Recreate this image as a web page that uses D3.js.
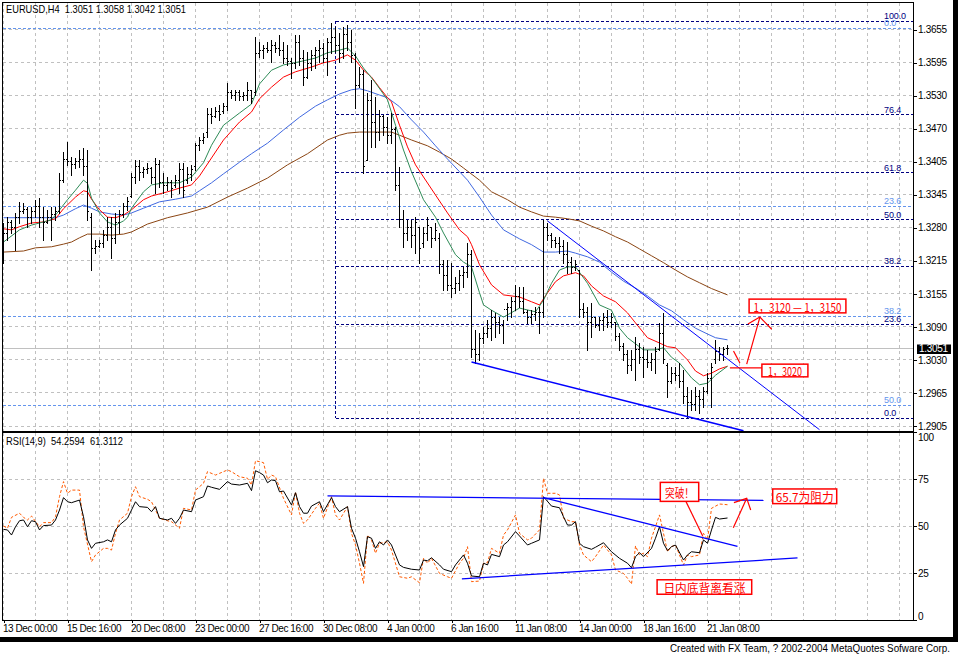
<!DOCTYPE html>
<html><head><meta charset="utf-8">
<script src="https://cdn.jsdelivr.net/npm/d3@7/dist/d3.min.js"></script>
<style>
html,body{margin:0;padding:0;background:#fff;}
svg{display:block;font-family:"Liberation Sans",Arial,sans-serif;}
</style></head><body>
<svg id="c" width="958" height="658"></svg>
<script>
// ---------------- DATA ----------------
const symbolHeader = "EURUSD,H4\u00a0\u00a01.3051 1.3058 1.3042 1.3051";
const rsiHeader = "RSI(14,9)\u00a0\u00a054.2594\u00a0\u00a061.3112";
const timeLabels = ["13 Dec 00:00","15 Dec 16:00","20 Dec 08:00","23 Dec 00:00","27 Dec 16:00","30 Dec 08:00","4 Jan 00:00","6 Jan 16:00","11 Jan 08:00","14 Jan 00:00","18 Jan 16:00","21 Jan 08:00"];
const timeLabelBars = [0,16,32,48,64,80,96,112,128,144,160,176];
const priceTickLabels = ["1.3655","1.3595","1.3530","1.3470","1.3405","1.3345","1.3280","1.3215","1.3155","1.3090","1.3030","1.2965","1.2905"];
const priceTickValues = [1.3655,1.35925,1.3530,1.34675,1.3405,1.33425,1.3280,1.32175,1.3155,1.30925,1.3030,1.29675,1.2905];
const rsiTickValues = [0,25,50,75,100];
const lastPrice = 1.3051;

const highs = [1.3289,1.3300,1.3295,1.3308,1.3329,1.3327,1.3319,1.3319,1.3333,1.3336,
1.3319,1.3314,1.3319,1.3319,1.3384,1.3423,1.3442,1.3414,1.3412,1.3427,
1.3431,1.3427,1.3308,1.3257,1.3257,1.3276,1.3300,1.3300,1.3308,1.3314,
1.3327,1.3338,1.3384,1.3408,1.3408,1.3395,1.3403,1.3395,1.3412,1.3408,
1.3384,1.3376,1.3370,1.3380,1.3403,1.3403,1.3395,1.3399,1.3440,1.3452,
1.3459,1.3506,1.3506,1.3508,1.3512,1.3516,1.3554,1.3541,1.3541,1.3541,
1.3537,1.3556,1.3541,1.3641,1.3631,1.3626,1.3631,1.3635,1.3631,1.3645,
1.3631,1.3626,1.3601,1.3645,1.3645,1.3616,1.3612,1.3616,1.3622,1.3635,
1.3630,1.3639,1.3667,1.3660,1.3649,1.3660,1.3664,1.3654,1.3611,1.3584,
1.3578,1.3535,1.3560,1.3527,1.3503,1.3493,1.3490,1.3497,1.3471,1.3395,
1.3314,1.3295,1.3295,1.3300,1.3282,1.3282,1.3300,1.3282,1.3289,1.3270,
1.3219,1.3219,1.3213,1.3187,1.3200,1.3206,1.3251,1.3238,1.3087,1.3081,
1.3092,1.3106,1.3124,1.3119,1.3111,1.3106,1.3138,1.3149,1.3172,1.3168,
1.3168,1.3124,1.3124,1.3130,1.3130,1.3295,1.3289,1.3270,1.3263,1.3263,
1.3257,1.3253,1.3225,1.3219,1.3200,1.3138,1.3130,1.3138,1.3111,1.3111,
1.3119,1.3124,1.3119,1.3100,1.3081,1.3062,1.3049,1.3049,1.3073,1.3062,
1.3055,1.3049,1.3043,1.3055,1.3100,1.3119,1.3024,1.3017,1.3017,1.3024,
1.3011,1.2979,1.2973,1.2979,1.2973,1.2979,1.3005,1.3024,1.3068,1.3055,
1.3055,1.3058];
const lows = [1.3213,1.3257,1.3270,1.3238,1.3289,1.3308,1.3282,1.3289,1.3300,1.3282,
1.3257,1.3289,1.3257,1.3295,1.3308,1.3367,1.3399,1.3380,1.3393,1.3395,
1.3380,1.3295,1.3200,1.3232,1.3244,1.3244,1.3257,1.3223,1.3251,1.3270,
1.3300,1.3314,1.3338,1.3365,1.3370,1.3376,1.3384,1.3365,1.3346,1.3357,
1.3346,1.3351,1.3338,1.3357,1.3346,1.3338,1.3365,1.3370,1.3389,1.3427,
1.3440,1.3452,1.3478,1.3489,1.3484,1.3497,1.3503,1.3525,1.3522,1.3522,
1.3522,1.3522,1.3516,1.3531,1.3603,1.3601,1.3612,1.3594,1.3612,1.3607,
1.3592,1.3588,1.3563,1.3582,1.3588,1.3550,1.3563,1.3578,1.3582,1.3594,
1.3594,1.3569,1.3611,1.3612,1.3594,1.3601,1.3616,1.3594,1.3507,1.3546,
1.3384,1.3408,1.3433,1.3433,1.3446,1.3455,1.3440,1.3440,1.3351,1.3282,
1.3244,1.3257,1.3244,1.3232,1.3213,1.3244,1.3257,1.3244,1.3257,1.3194,
1.3162,1.3162,1.3149,1.3156,1.3162,1.3168,1.3187,1.3036,1.3024,1.3030,
1.3062,1.3073,1.3068,1.3073,1.3081,1.3062,1.3106,1.3111,1.3124,1.3130,
1.3119,1.3100,1.3100,1.3106,1.3081,1.3111,1.3257,1.3244,1.3244,1.3232,
1.3213,1.3194,1.3194,1.3200,1.3111,1.3111,1.3049,1.3073,1.3092,1.3087,
1.3087,1.3092,1.3092,1.3068,1.3049,1.3030,1.3005,1.3011,1.2992,1.3024,
1.2998,1.3017,1.3011,1.3005,1.3049,1.3024,1.2960,1.2986,1.2992,1.2979,
1.2949,1.2922,1.2935,1.2935,1.2930,1.2941,1.2967,1.2941,1.3024,1.3030,
1.3030,1.3042];
const opens = [1.3250,1.3270,1.3290,1.3280,1.3300,1.3310,1.3315,1.3300,1.3310,1.3320,
1.3300,1.3290,1.3300,1.3305,1.3310,1.3370,1.3410,1.3405,1.3400,1.3405,
1.3410,1.3395,1.3300,1.3240,1.3245,1.3250,1.3265,1.3280,1.3260,1.3290,
1.3305,1.3320,1.3340,1.3375,1.3395,1.3385,1.3390,1.3392,1.3375,1.3400,
1.3365,1.3360,1.3365,1.3360,1.3370,1.3390,1.3370,1.3380,1.3395,1.3435,
1.3445,1.3460,1.3495,1.3490,1.3500,1.3500,1.3510,1.3535,1.3530,1.3535,
1.3528,1.3530,1.3540,1.3535,1.3610,1.3615,1.3620,1.3615,1.3625,1.3620,
1.3615,1.3600,1.3595,1.3590,1.3630,1.3600,1.3565,1.3590,1.3605,1.3615,
1.3620,1.3600,1.3630,1.3640,1.3625,1.3610,1.3645,1.3630,1.3605,1.3550,
1.3570,1.3408,1.3520,1.3480,1.3460,1.3490,1.3470,1.3455,1.3465,1.3360,
1.3295,1.3270,1.3280,1.3265,1.3280,1.3250,1.3270,1.3280,1.3260,1.3260,
1.3210,1.3190,1.3170,1.3165,1.3175,1.3190,1.3195,1.3230,1.3050,1.3040,
1.3070,1.3080,1.3090,1.3110,1.3100,1.3095,1.3125,1.3130,1.3140,1.3150,
1.3140,1.3120,1.3110,1.3115,1.3120,1.3120,1.3280,1.3265,1.3255,1.3250,
1.3245,1.3230,1.3215,1.3205,1.3200,1.3125,1.3120,1.3100,1.3110,1.3095,
1.3105,1.3110,1.3100,1.3100,1.3075,1.3055,1.3040,1.3020,1.3030,1.3050,
1.3035,1.3030,1.3025,1.3030,1.3050,1.3080,1.3020,1.2990,1.3005,1.3000,
1.2990,1.2960,1.2950,1.2945,1.2960,1.2955,1.2970,1.2995,1.3030,1.3045,
1.3040,1.3051];
const closes = [1.3270,1.3290,1.3280,1.3300,1.3310,1.3315,1.3300,1.3310,1.3320,1.3300,
1.3290,1.3300,1.3305,1.3310,1.3370,1.3410,1.3405,1.3400,1.3405,1.3410,
1.3395,1.3310,1.3240,1.3245,1.3250,1.3265,1.3280,1.3260,1.3290,1.3305,
1.3320,1.3330,1.3375,1.3395,1.3385,1.3390,1.3392,1.3375,1.3400,1.3365,
1.3360,1.3365,1.3355,1.3370,1.3390,1.3350,1.3380,1.3390,1.3435,1.3445,
1.3450,1.3495,1.3490,1.3500,1.3495,1.3510,1.3535,1.3530,1.3535,1.3528,
1.3530,1.3540,1.3525,1.3610,1.3615,1.3620,1.3615,1.3625,1.3620,1.3615,
1.3600,1.3595,1.3590,1.3630,1.3600,1.3565,1.3590,1.3605,1.3615,1.3620,
1.3600,1.3630,1.3640,1.3625,1.3610,1.3645,1.3630,1.3605,1.3550,1.3570,
1.3395,1.3520,1.3480,1.3460,1.3490,1.3470,1.3455,1.3465,1.3360,1.3295,
1.3270,1.3280,1.3265,1.3290,1.3240,1.3270,1.3285,1.3260,1.3275,1.3210,
1.3190,1.3170,1.3165,1.3175,1.3190,1.3195,1.3230,1.3050,1.3040,1.3070,
1.3080,1.3090,1.3110,1.3100,1.3095,1.3125,1.3130,1.3140,1.3150,1.3140,
1.3120,1.3110,1.3115,1.3120,1.3120,1.3280,1.3265,1.3255,1.3250,1.3245,
1.3230,1.3215,1.3205,1.3210,1.3125,1.3120,1.3100,1.3110,1.3095,1.3105,
1.3110,1.3100,1.3110,1.3075,1.3055,1.3040,1.3020,1.3030,1.3050,1.3035,
1.3030,1.3025,1.3030,1.3045,1.3080,1.3030,1.2990,1.3005,1.3000,1.2990,
1.2960,1.2950,1.2945,1.2960,1.2955,1.2970,1.2995,1.3015,1.3045,1.3040,
1.3050,1.3051];

// moving averages, [bar index, price]
const maGreen = [[0,1.3253],[4,1.3276],[7,1.3285],[12,1.3295],[13,1.3304],[16,1.3333],[18,1.3351],[20,1.3370],[21,1.3364],[22,1.3336],[24,1.3308],[26,1.3291],[28,1.3285],[30,1.3293],[31,1.3300],[32,1.3317],[35,1.3348],[37,1.3361],[40,1.3365],[44,1.3365],[47,1.3376],[50,1.3403],[52,1.3436],[55,1.3474],[59,1.3497],[62,1.3514],[64,1.3552],[67,1.3578],[70,1.3588],[74,1.3594],[78,1.3601],[81,1.3611],[84,1.3616],[86,1.3620],[88,1.3605],[90,1.3582],[91,1.3573],[93,1.3554],[96,1.3522],[98,1.3474],[100,1.3427],[102,1.3386],[105,1.3333],[108,1.3300],[110,1.3270],[113,1.3229],[115,1.3215],[117,1.3206],[119,1.3157],[120,1.3134],[122,1.3124],[125,1.3111],[129,1.3128],[133,1.3121],[135,1.3143],[137,1.3175],[139,1.3200],[141,1.3206],[143,1.3206],[146,1.3175],[149,1.3134],[152,1.3124],[154,1.3090],[156,1.3072],[160,1.3049],[163,1.3049],[165,1.3053],[167,1.3035],[169,1.3024],[172,1.2996],[174,1.2983],[176,1.2986],[178,1.3001],[181,1.3018]];
const maRed = [[0,1.3278],[2,1.3276],[4,1.3282],[7,1.3289],[10,1.3291],[13,1.3297],[15,1.3316],[18,1.3338],[20,1.3350],[21,1.3348],[22,1.3334],[24,1.3314],[26,1.3300],[28,1.3299],[30,1.3304],[32,1.3314],[35,1.3333],[37,1.3340],[41,1.3348],[44,1.3355],[47,1.3361],[49,1.3378],[52,1.3412],[55,1.3446],[59,1.3480],[62,1.3499],[64,1.3524],[67,1.3546],[70,1.3565],[73,1.3575],[77,1.3584],[80,1.3592],[83,1.3597],[86,1.3607],[88,1.3597],[90,1.3578],[92,1.3565],[94,1.3545],[96,1.3526],[97,1.3518],[99,1.3474],[101,1.3433],[103,1.3399],[105,1.3376],[108,1.3342],[111,1.3308],[114,1.3276],[116,1.3263],[117,1.3248],[119,1.3210],[122,1.3172],[125,1.3153],[129,1.3149],[132,1.3140],[134,1.3134],[136,1.3157],[138,1.3178],[140,1.3189],[143,1.3195],[145,1.3189],[147,1.3170],[150,1.3151],[153,1.3140],[156,1.3119],[158,1.3100],[161,1.3072],[164,1.3062],[166,1.3055],[168,1.3053],[171,1.3030],[173,1.3009],[175,1.3000],[177,1.3005],[179,1.3013],[181,1.3018]];
const maBlue = [[0,1.3299],[13,1.3299],[15,1.3304],[18,1.3316],[20,1.3323],[22,1.3317],[24,1.3310],[27,1.3306],[30,1.3304],[32,1.3308],[35,1.3317],[39,1.3329],[43,1.3334],[47,1.3340],[49,1.3350],[52,1.3365],[55,1.3382],[59,1.3404],[62,1.3420],[66,1.3440],[70,1.3465],[74,1.3489],[78,1.3510],[81,1.3522],[84,1.3533],[87,1.3541],[89,1.3543],[91,1.3539],[94,1.3531],[96,1.3526],[99,1.3509],[102,1.3484],[105,1.3461],[108,1.3435],[111,1.3410],[114,1.3386],[116,1.3370],[119,1.3338],[122,1.3304],[125,1.3276],[129,1.3259],[132,1.3248],[135,1.3234],[138,1.3234],[141,1.3236],[143,1.3232],[146,1.3225],[149,1.3215],[152,1.3196],[155,1.3179],[158,1.3166],[161,1.3151],[164,1.3134],[167,1.3123],[170,1.3106],[173,1.3090],[176,1.3079],[178,1.3072],[181,1.3068]];
const maBrown = [[0,1.3234],[5,1.3236],[8,1.3242],[12,1.3244],[15,1.3249],[17,1.3253],[19,1.3261],[21,1.3268],[24,1.3268],[27,1.3266],[30,1.3268],[32,1.3272],[36,1.3287],[41,1.3299],[46,1.3308],[51,1.3319],[56,1.3338],[61,1.3355],[66,1.3374],[71,1.3399],[76,1.3420],[81,1.3446],[84,1.3455],[86,1.3459],[89,1.3461],[93,1.3461],[97,1.3461],[99,1.3455],[102,1.3446],[106,1.3435],[109,1.3423],[112,1.3410],[115,1.3393],[119,1.3370],[122,1.3348],[126,1.3333],[129,1.3319],[132,1.3310],[135,1.3302],[138,1.3300],[141,1.3297],[144,1.3293],[147,1.3283],[150,1.3274],[153,1.3263],[156,1.3253],[159,1.3240],[162,1.3227],[165,1.3214],[168,1.3200],[171,1.3187],[174,1.3176],[177,1.3165],[181,1.3153]];

// RSI(14) and its companion (orange dashed), [bar index, value]
const rsiMain = [[0,48.2],[1,47.9],[2,45.2],[3,49.6],[4,52.8],[5,53.2],[6,49.6],[7,52.8],[8,52.3],[9,47.9],[10,50.2],[12,50.5],[13,53.2],[14,58.5],[15,65.1],[16,62.9],[17,62.4],[19,63.8],[20,54.9],[21,42.6],[22,38.1],[23,40.8],[25,41.6],[26,42.6],[27,41.6],[28,47.9],[29,50.5],[31,54.1],[32,58.5],[33,62.9],[34,60.3],[36,59.9],[37,57.6],[38,60.3],[39,54.1],[41,53.2],[42,54.1],[43,51.4],[44,54.1],[45,58.5],[47,57.6],[48,63.8],[50,65.6],[51,71.3],[52,70.6],[54,69.5],[56,73.6],[57,72.3],[59,71.8],[61,72.7],[62,68.8],[63,79.4],[64,78.4],[65,77.1],[66,73.0],[67,74.5],[68,74.1],[69,68.2],[70,68.6],[72,61.2],[73,67.7],[74,60.3],[75,56.8],[76,56.8],[77,60.6],[79,62.9],[80,57.6],[82,65.1],[83,60.3],[84,57.6],[86,60.3],[87,48.8],[88,43.5],[89,36.3],[90,28.4],[91,44.3],[92,43.5],[93,38.1],[94,41.6],[95,39.9],[96,42.6],[97,39.9],[99,29.3],[100,28.0],[102,27.0],[104,26.6],[105,31.9],[106,31.5],[107,33.1],[109,29.3],[110,27.0],[112,25.7],[113,29.3],[115,34.6],[116,30.2],[117,23.4],[119,23.0],[120,30.2],[121,29.3],[122,34.9],[124,33.7],[125,39.9],[126,41.6],[128,47.0],[129,44.7],[131,39.9],[132,40.8],[134,42.6],[135,65.6],[137,60.6],[139,59.7],[140,54.9],[141,50.5],[142,50.5],[143,52.3],[144,40.8],[145,39.0],[147,37.6],[148,38.7],[150,41.1],[152,36.3],[154,32.8],[156,30.2],[157,27.8],[158,33.7],[159,35.8],[160,33.7],[162,38.1],[163,43.5],[164,49.6],[165,40.8],[166,36.9],[167,39.0],[168,39.9],[170,31.9],[171,34.6],[172,36.3],[174,35.8],[175,42.6],[176,40.8],[177,47.9],[178,54.6],[179,53.7],[181,54.26]];
const rsiSignal = [[0,50.0],[1,48.8],[2,54.6],[4,56.8],[5,54.6],[6,53.2],[7,55.3],[9,49.6],[10,51.8],[12,51.8],[13,54.9],[14,65.6],[15,73.6],[16,67.4],[17,69.1],[19,69.1],[20,49.6],[22,31.0],[23,34.6],[25,38.1],[26,38.1],[27,37.2],[28,46.1],[29,53.2],[31,56.8],[32,65.6],[33,70.9],[34,65.6],[36,64.2],[37,62.9],[39,54.1],[41,52.8],[42,52.3],[44,48.8],[45,59.4],[47,58.5],[48,69.1],[50,72.7],[51,78.9],[53,77.1],[54,78.0],[56,79.8],[57,78.9],[59,76.2],[61,75.4],[62,71.8],[63,84.7],[65,83.7],[66,74.8],[67,77.1],[68,76.2],[70,64.7],[72,55.9],[73,68.2],[74,56.8],[75,51.4],[76,53.2],[78,59.4],[79,62.1],[80,54.1],[82,65.6],[83,55.9],[84,53.2],[86,60.3],[87,46.1],[88,39.9],[89,30.2],[90,19.5],[91,45.2],[92,42.6],[93,35.5],[94,40.8],[96,41.6],[97,37.2],[99,23.0],[101,22.2],[102,23.0],[104,19.8],[105,32.8],[106,30.2],[107,32.8],[109,24.8],[111,23.0],[112,22.2],[114,30.2],[115,32.8],[116,39.0],[117,20.4],[119,20.7],[120,30.2],[121,30.5],[122,38.1],[124,35.5],[125,45.2],[126,47.9],[128,55.9],[129,46.1],[131,42.6],[132,43.5],[134,47.9],[135,75.4],[136,67.4],[138,67.4],[139,66.5],[140,54.1],[142,52.3],[143,52.3],[144,39.9],[145,34.6],[147,31.0],[148,33.7],[150,39.9],[152,34.6],[153,26.6],[155,24.8],[156,22.2],[157,19.1],[158,39.4],[159,34.6],[160,35.5],[161,33.7],[162,43.5],[164,55.9],[165,46.1],[166,36.3],[167,39.0],[168,39.9],[170,29.3],[171,34.6],[172,33.7],[174,34.6],[175,46.1],[176,42.6],[177,59.4],[179,61.7],[181,61.31]];

// Fibonacci objects
const fibMainLevels = [100,76.4,61.8,50,38.2,23.6,0];
const fibMainLabels = ["100.0","76.4","61.8","50.0","38.2","23.6","0.0"];
const fibMainLow = 1.2920, fibMainHigh = 1.3671, fibMainStartBar = 83;
const fibAltLevels = [0,23.6,38.2,50];
const fibAltLabels = ["0.0","23.6","38.2","50.0"];
const fibAlt0 = 1.3656, fibAlt100 = 1.2230;

// trendlines [[bar, value],[bar, value]]
const tlPriceLower = [[117,1.3026],[185,1.2896]];
const tlPriceUpper = [[136,1.3293],[204,1.2898]];
const tlRsiTop = [[81,66.0],[190,63.6]];
const tlRsiDown = [[135,65.1],[183.5,39.2]];
const tlRsiUp = [[114.6,21.9],[198.5,33.0]];

// ---------------- LAYOUT ----------------
const PL=3, PR=913, MT=3, MB=431, RT=433, RB=620;
const svg = d3.select('#c');
const x = d3.scaleLinear().domain([0,227.5]).range([3.5,913.5]);
const y = d3.scaleLinear().domain([1.2905,1.3655]).range([426,29.5]);
const yr = d3.scaleLinear().domain([0,100]).range([RB,432]);
const cr = v => Math.round(v-0.5)+0.5;

const defs = svg.append('defs');
defs.append('clipPath').attr('id','cm').append('rect').attr('x',PL).attr('y',MT).attr('width',PR-PL).attr('height',MB-MT);
defs.append('clipPath').attr('id','cr').append('rect').attr('x',PL).attr('y',RT).attr('width',PR-PL).attr('height',RB-RT);

// grid
const grid = svg.append('g').attr('stroke','#c0c0c0').attr('stroke-dasharray','3,3').attr('shape-rendering','crispEdges');
const gridBars = d3.range(0,225,8);
grid.selectAll('.vm').data(gridBars).join('line').attr('x1',d=>x(d)).attr('x2',d=>x(d)).attr('y1',MT).attr('y2',MB);
grid.selectAll('.vr').data(gridBars).join('line').attr('class','vr').attr('x1',d=>x(d)).attr('x2',d=>x(d)).attr('y1',RT).attr('y2',RB);
grid.selectAll('.hm').data(priceTickValues).join('line').attr('class','hm').attr('x1',PL).attr('x2',PR).attr('y1',d=>cr(y(d))).attr('y2',d=>cr(y(d)));
grid.selectAll('.hr').data([25,50,75]).join('line').attr('class','hr').attr('x1',PL).attr('x2',PR).attr('y1',d=>cr(yr(d))).attr('y2',d=>cr(yr(d)));

// fib objects
const main = svg.append('g').attr('clip-path','url(#cm)');
const fibAltPrice = l => fibAlt0 - l/100*(fibAlt0-fibAlt100);
const fibMainPrice = l => fibMainLow + l/100*(fibMainHigh-fibMainLow);
const fa = main.append('g').attr('stroke','#6495ed').attr('stroke-dasharray','3,2').attr('shape-rendering','crispEdges');
fa.selectAll('line').data(fibAltLevels).join('line').attr('x1',PL).attr('x2',PR).attr('y1',d=>cr(y(fibAltPrice(d)))).attr('y2',d=>cr(y(fibAltPrice(d))));
const fm = main.append('g').attr('stroke','#000080').attr('stroke-dasharray','3,2').attr('shape-rendering','crispEdges');
fm.selectAll('line').data(fibMainLevels).join('line').attr('x1',x(fibMainStartBar)).attr('x2',PR).attr('y1',d=>cr(y(fibMainPrice(d)))).attr('y2',d=>cr(y(fibMainPrice(d))));
fm.append('line').attr('x1',x(fibMainStartBar)).attr('x2',x(fibMainStartBar)).attr('y1',y(fibMainHigh)).attr('y2',y(fibMainLow));
main.append('g').selectAll('text').data(fibAltLevels).join('text').attr('x',884).attr('y',d=>y(fibAltPrice(d))-2.5)
  .attr('fill','#6495ed').attr('font-size',9).attr('letter-spacing',-0.1).text((d,i)=>fibAltLabels[i]);
main.append('g').selectAll('text').data(fibMainLevels).join('text').attr('x',884).attr('y',d=>y(fibMainPrice(d))-2)
  .attr('fill','#000080').attr('font-size',9).attr('letter-spacing',-0.1).text((d,i)=>fibMainLabels[i]);

// current price line
main.append('line').attr('x1',PL).attr('x2',PR).attr('y1',cr(y(lastPrice))).attr('y2',cr(y(lastPrice))).attr('stroke','#c0c0c0').attr('shape-rendering','crispEdges');

// moving averages
const pl = d3.line().x(d=>x(d[0])).y(d=>y(d[1]));
[[maBrown,'#8b4513'],[maBlue,'#4169e1'],[maRed,'#ff0000'],[maGreen,'#2e8b57']].forEach(([d,c])=>{
  main.append('path').datum(d).attr('d',pl).attr('fill','none').attr('stroke',c).attr('stroke-width',1);
});

// OHLC bars
const bars = d3.range(highs.length).map(i=>({i,o:opens[i],h:highs[i],l:lows[i],c:closes[i]}));
const gb = main.append('g').attr('stroke','#000').attr('stroke-width',1).attr('shape-rendering','crispEdges');
const clampO = d => Math.max(d.l, Math.min(d.h, d.o));
gb.selectAll('.b').data(bars).join('line').attr('x1',d=>x(d.i)).attr('x2',d=>x(d.i)).attr('y1',d=>Math.round(y(d.h))).attr('y2',d=>Math.round(y(d.l))+1);
gb.selectAll('.o').data(bars).join('line').attr('class','o').attr('x1',d=>x(d.i)-1.5).attr('x2',d=>x(d.i)).attr('y1',d=>cr(y(clampO(d)))).attr('y2',d=>cr(y(clampO(d))));
gb.selectAll('.c').data(bars).join('line').attr('class','c').attr('x1',d=>x(d.i)).attr('x2',d=>x(d.i)+1.5).attr('y1',d=>cr(y(d.c))).attr('y2',d=>cr(y(d.c)));

// price trendlines
const seg = (g,d,sy,w) => g.append('line').attr('x1',x(d[0][0])).attr('y1',sy(d[0][1])).attr('x2',x(d[1][0])).attr('y2',sy(d[1][1])).attr('stroke','#0000ff').attr('stroke-width',w);
seg(main,tlPriceLower,y,1.6);
seg(main,tlPriceUpper,y,1);

// RSI panel
const rg = svg.append('g').attr('clip-path','url(#cr)');
const rl = d3.line().x(d=>x(d[0])).y(d=>yr(d[1]));
rg.append('path').datum(rsiSignal).attr('d',rl).attr('fill','none').attr('stroke','#ff5a00').attr('stroke-width',1).attr('stroke-dasharray','3,2');
rg.append('path').datum(rsiMain).attr('d',rl).attr('fill','none').attr('stroke','#000').attr('stroke-width',1);
seg(rg,tlRsiTop,yr,1.3);
seg(rg,tlRsiDown,yr,1.3);
seg(rg,tlRsiUp,yr,1.3);

// ---------- annotations (red) ----------
const red='#ff0000';
const ann = svg.append('g');
function line(g,pts,sy){ g.append('path').attr('d',d3.line()(pts.map(p=>[x(p[0]),sy(p[1])]))).attr('fill','none').attr('stroke',red).attr('stroke-width',1.2); }
function box(g,b,sy){
  const x0=x(b[0]),x1=x(b[1]),y0=sy(b[2]),y1=sy(b[3]);
  g.append('rect').attr('x',x0).attr('y',y0).attr('width',x1-x0).attr('height',y1-y0).attr('fill','#fff').attr('stroke',red).attr('stroke-width',1.5);
  g.append('text').attr('x',(x0+x1)/2).attr('y',(y0+y1)/2+0.5).attr('text-anchor','middle').attr('dominant-baseline','central')
   .attr('fill',red).attr('font-family','"Noto Sans CJK SC","Liberation Sans",sans-serif').attr('font-size',12)
   .attr('textLength',b[5]).attr('lengthAdjust','spacingAndGlyphs').text(b[4]);
}
line(ann,[[181.6,1.3015],[189.6,1.3015]],y);
line(ann,[[182.5,1.3047],[184.1,1.3024]],y);
line(ann,[[185.8,1.3022],[189.1,1.3111]],y);
line(ann,[[186.1,1.3098],[189.1,1.3111],[192.05,1.3088]],y);
box(ann,[186.4,210.6,1.3145,1.3119,'1，3120 — 1，3150',88],y);
box(ann,[189.6,201.1,1.3022,1.2998,'1，3020',34],y);
line(ann,[[170.6,63.1],[174.8,44.7]],yr);
line(ann,[[182.45,49.1],[185.8,64.7]],yr);
line(ann,[[182.6,62.4],[185.8,64.7],[186.8,58.5]],yr);
box(ann,[164.2,173.8,73.2,63.1,'突破！',29],yr);
box(ann,[192.3,208.3,69.7,61.9,'65.7为阻力',58],yr);
box(ann,[163.4,187.05,21.4,13.7,'日内底背离看涨',82],yr);

// ---------- axes ----------
const axPrice = svg.append('g').attr('transform',`translate(${PR},0)`)
  .call(d3.axisRight(y).tickValues(priceTickValues).tickFormat((d,i)=>priceTickLabels[i]).tickSize(4).tickPadding(1));
const axRsi = svg.append('g').attr('transform',`translate(${PR},0)`)
  .call(d3.axisRight(yr).tickValues(rsiTickValues).tickFormat(d=>String(d)).tickSize(4).tickPadding(1));
const axTime = svg.append('g').attr('transform',`translate(0,${RB})`)
  .call(d3.axisBottom(x).tickValues(timeLabelBars).tickFormat((d,i)=>timeLabels[i]).tickSize(3).tickPadding(2));
[axPrice,axRsi,axTime].forEach(a=>{
  a.select('.domain').remove();
  a.attr('font-family','"Liberation Sans",Arial,sans-serif').attr('font-size',10);
  a.selectAll('line').attr('stroke','#000').attr('shape-rendering','crispEdges');
  a.selectAll('text').attr('fill','#000').attr('letter-spacing',-0.3);
});
axTime.selectAll('text').attr('text-anchor','start').attr('x',-1).attr('letter-spacing',-0.45);
axRsi.selectAll('.tick').filter(d=>d===100).select('text').attr('y',0).attr('dy','8px');
axRsi.selectAll('.tick').filter(d=>d===0).select('text').attr('dy','-0.1em');

// last price label
const lp = svg.append('g');
lp.append('rect').attr('x',917).attr('y',Math.round(y(lastPrice))-4.5).attr('width',34).attr('height',9.5).attr('fill','#000');
lp.append('text').attr('x',919).attr('y',y(lastPrice)).attr('dy','0.35em').attr('fill','#fff').attr('font-size',10).attr('letter-spacing',-0.3).text('1.3051');

// ---------- frames & headers ----------
const fr = svg.append('g').attr('fill','none').attr('stroke','#000').attr('shape-rendering','crispEdges');
fr.append('rect').attr('x',PL-0.5).attr('y',MT-0.5).attr('width',PR-PL+1).attr('height',MB-MT+0.5);
fr.append('rect').attr('x',PL-0.5).attr('y',RT-0.5).attr('width',PR-PL+1).attr('height',RB-RT+1);
svg.append('rect').attr('x',953).attr('y',0).attr('width',5).attr('height',642).attr('fill','#000');
svg.append('rect').attr('x',0).attr('y',637).attr('width',958).attr('height',5).attr('fill','#000');

svg.append('text').attr('x',6).attr('y',13).attr('font-size',10.5).attr('textLength',180).attr('lengthAdjust','spacingAndGlyphs').text(symbolHeader);
svg.append('text').attr('x',6).attr('y',445).attr('font-size',10.5).attr('textLength',117).attr('lengthAdjust','spacingAndGlyphs').text(rsiHeader);
svg.append('text').attr('x',670).attr('y',652).attr('font-size',10).attr('textLength',280).attr('lengthAdjust','spacingAndGlyphs').text('Created with FX Team, ? 2002-2004 MetaQuotes Sofware Corp.');
</script>
</body></html>
